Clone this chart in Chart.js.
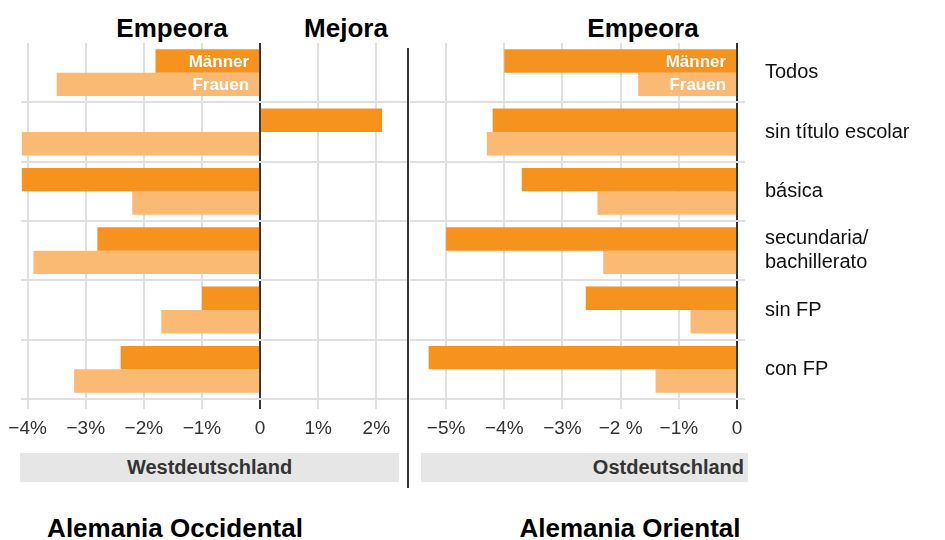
<!DOCTYPE html>
<html>
<head>
<meta charset="utf-8">
<script src="https://cdn.jsdelivr.net/npm/chart.js@4"></script>
<style>
  body { margin: 0; width: 945px; height: 540px; background: #fff; position: relative; overflow: hidden; font-family: "Liberation Sans", Arial, sans-serif; }
  canvas { position: absolute; top: 0; }
  .title { position: absolute; font-weight: bold; font-size: 26px; line-height: 26px; color: #000; transform: translateX(-50%); white-space: nowrap; }
  .box { position: absolute; top: 453px; height: 29px; background: #e6e6e6; color: #333; font-weight: bold; font-size: 20px; line-height: 29px; }
  .divider { position: absolute; left: 407px; top: 48px; width: 2px; height: 440px; background: #333; }
</style>
</head>
<body>
<div class="title" style="left:172px; top:15px">Empeora</div>
<div class="title" style="left:346px; top:15px">Mejora</div>
<div class="title" style="left:643px; top:15px">Empeora</div>
<div class="title" style="left:175px; top:515px">Alemania Occidental</div>
<div class="title" style="left:630px; top:515px">Alemania Oriental</div>

<canvas id="westChart" width="408" height="445" style="left:0"></canvas>
<canvas id="eastChart" width="536" height="445" style="left:409px"></canvas>

<div class="box" style="left:20px; width:379px; text-align:center">Westdeutschland</div>
<div class="box" style="left:421px; width:327px; text-align:right; padding-right:0; box-sizing:border-box; padding-right:4px">Ostdeutschland</div>
<div class="divider"></div>

<script>
const categories = ['Todos', 'sin título escolar', 'básica', ['secundaria/', 'bachillerato'], 'sin FP', 'con FP'];
const westMen = [-1.8, 2.1, -4.1, -2.8, -1.0, -2.4];
const westWomen = [-3.5, -4.1, -2.2, -3.9, -1.7, -3.2];
const eastMen = [-4.0, -4.2, -3.7, -5.0, -2.6, -5.3];
const eastWomen = [-1.7, -4.3, -2.4, -2.3, -0.8, -1.4];
const westTickValues = [-4, -3, -2, -1, 0, 1, 2];
const westTickLabels = ['−4%', '−3%', '−2%', '−1%', '0', '1%', '2%'];
const eastTickValues = [-5, -4, -3, -2, -1, 0];
const eastTickLabels = ['−5%', '−4%', '−3%', '−2 %', '−1%', '0'];

Chart.defaults.font.family = '"Liberation Sans", Arial, sans-serif';

const GRID = '#e0e0e0';
const ZERO = '#333';

// writes "Männer" / "Frauen" inside the first pair of bars
const barLabels = {
  id: 'barLabels',
  afterDatasetsDraw(chart) {
    const { ctx, scales: { x } } = chart;
    const zeroX = x.getPixelForValue(0);
    ctx.save();
    ctx.font = 'bold 17px "Liberation Sans", Arial, sans-serif';
    ctx.fillStyle = '#fff';
    ctx.textAlign = 'right';
    ctx.textBaseline = 'middle';
    chart.data.datasets.forEach((ds, i) => {
      const bar = chart.getDatasetMeta(i).data[0];
      ctx.fillText(ds.label, zeroX - 11, bar.y + 1);
    });
    ctx.restore();
  }
};

function makeChart(id, men, women, tickValues, tickLabels, min, max, isEast) {
  const ctx = document.getElementById(id).getContext('2d');
  return new Chart(ctx, {
    type: 'bar',
    data: {
      labels: categories,
      datasets: [
        { label: 'Männer', data: men, backgroundColor: '#f6921e' },
        { label: 'Frauen', data: women, backgroundColor: '#fbba74' }
      ]
    },
    options: {
      indexAxis: 'y',
      responsive: false,
      animation: false,
      barPercentage: 1,
      categoryPercentage: 0.79,
      layout: { padding: { top: 43, left: isEast ? 1 : 20, right: 0, bottom: 0 } },
      plugins: { legend: { display: false }, tooltip: { enabled: false } },
      scales: {
        x: {
          min: min,
          max: max,
          afterBuildTicks: s => { s.ticks = tickValues.map(v => ({ value: v })); },
          afterFit: s => { s.height = 46; },
          border: { display: false },
          grid: {
            color: c => (c.tick && c.tick.value === 0 ? ZERO : GRID),
            lineWidth: 2,
            tickLength: 10
          },
          ticks: {
            padding: 8,
            color: '#333',
            font: { size: 19 },
            callback: (value, index) => tickLabels[index]
          }
        },
        y: {
          position: isEast ? 'right' : 'left',
          afterFit: s => { s.width = isEast ? 200 : 0; },
          border: { display: false },
          grid: {
            offset: true,
            drawTicks: false,
            lineWidth: 2,
            color: c => (c.index === 0 ? 'rgba(0,0,0,0)' : GRID)
          },
          ticks: {
            display: isEast,
            padding: 20,
            color: '#111',
            font: { size: 20 }
          }
        }
      }
    },
    plugins: [barLabels]
  });
}

makeChart('westChart', westMen, westWomen, westTickValues, westTickLabels, -4.12, 2.545, false);
makeChart('eastChart', eastMen, eastWomen, eastTickValues, eastTickLabels, -5.62, 0.136, true);
</script>
</body>
</html>
